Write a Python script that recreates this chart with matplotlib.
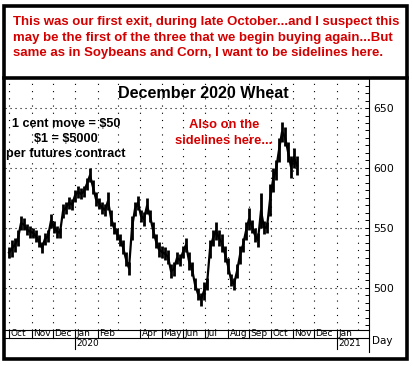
import numpy as np
import pandas as pd
import matplotlib.pyplot as plt
from matplotlib.lines import Line2D
from matplotlib.patches import Rectangle
from matplotlib.transforms import blended_transform_factory

W, H = 413, 366

# December 2020 wheat (cents/bu), one bar every 3rd trading day from 1 Oct 2019
lows = [525, 526, 530, 535, 548, 548, 544, 542, 542, 538, 534, 529, 536, 538,
        550, 546, 542, 542, 558, 562, 566, 565, 572, 575, 574, 576, 582, 588,
        578, 568, 566, 562, 560, 565, 552, 545, 540, 535, 528, 518, 511, 540,
        560, 565, 555, 552, 562, 555, 542, 533, 526, 525, 523, 520, 508, 510,
        520, 518, 525, 530, 515, 510, 498, 490, 485, 490, 498, 525, 535, 540,
        535, 530, 522, 512, 502, 498, 508, 520, 530, 540, 548, 546, 538, 534,
        550, 545, 546, 560, 580, 590, 605, 622, 618, 605, 592, 600, 594]
highs = [534, 540, 542, 548, 560, 558, 553, 552, 550, 548, 544, 538, 546, 548,
         562, 556, 552, 550, 570, 572, 576, 574, 582, 585, 583, 585, 592, 600,
         590, 580, 575, 572, 570, 580, 565, 555, 550, 545, 540, 530, 522, 560,
         572, 577, 565, 563, 575, 565, 555, 545, 538, 535, 534, 532, 520, 522,
         530, 528, 535, 542, 530, 522, 508, 500, 496, 505, 508, 540, 548, 555,
         548, 545, 535, 525, 512, 508, 520, 535, 542, 555, 567, 557, 550, 546,
         579, 556, 555, 587, 600, 607, 625, 638, 634, 622, 610, 617, 610]

month_names = ['Oct', 'Nov', 'Dec', 'Jan', 'Feb', 'Mar', 'Apr', 'May', 'Jun',
               'Jul', 'Aug', 'Sep', 'Oct', 'Nov', 'Dec', 'Jan', 'Feb']
month_shown = [1, 1, 1, 1, 1, 0, 1, 1, 1, 1, 1, 1, 1, 1, 1, 1, 0]
years = ['2020', '2021']
price_ticks = [500, 550, 600, 650]

top_note = ["This was our first exit, during late October...and I suspect this",
            "may be the first of the three that we begin buying again...But",
            "same as in Soybeans and Corn, I want to be sidelines here."]
side_note = ["Also on the", "sidelines here..."]
contract_note = ["1 cent move = \\$50", "\\$1 = \\$5000", "per futures contract"]
title = "December 2020 Wheat"

red = '#d40000'
days = pd.bdate_range('2019-10-01', '2021-03-31')
month_starts = pd.date_range('2019-10-01', periods=len(month_names), freq='MS')
month_idx = days.searchsorted(month_starts)
bar_idx = np.arange(len(lows)) * 3
lows = np.array(lows)
highs = np.array(highs)


def fx(px):
    return px / W


def fy(py):
    return 1 - py / H


fig = plt.figure(figsize=(W / 100, H / 100), dpi=100)
ax = fig.add_axes([fx(5), fy(329.5), fx(369) - fx(5), fy(78) - fy(329.5)])
ax.set_xlim(-4, 360)
ax.set_ylim(650 - 221.5 / 1.2, 650 + 30 / 1.2)

for p in price_ticks:
    ax.axhline(p, color='k', lw=0.8, ls=(0, (1, 3.5)), zorder=0)
for m in month_idx:
    ax.axvline(m, color='k', lw=0.8, ls=(0, (1, 5.5)), zorder=0)

ax.vlines(bar_idx, lows, highs, color='k', lw=2.0)
ax.plot(bar_idx, (lows + highs) / 2, color='k', lw=1.6)

for s in ['left', 'top']:
    ax.spines[s].set_visible(False)
ax.spines['right'].set_linewidth(0.8)
ax.spines['bottom'].set_linewidth(0.8)
ax.yaxis.tick_right()
ax.set_yticks(price_ticks)
ax.set_yticklabels([str(p) for p in price_ticks], fontsize=7.8, family='DejaVu Sans')
ax.yaxis.set_minor_locator(plt.MultipleLocator(50 / 8))
ax.tick_params(axis='y', which='both', direction='in', length=3, width=0.7, pad=3)
ax.set_xticks([])

# month / year label rows under the plot
bt = blended_transform_factory(ax.transData, fig.transFigure)
fig.add_artist(Line2D([fx(4), fx(369)], [fy(337.5), fy(337.5)], color='k', lw=0.8))
fig.add_artist(Line2D([fx(369), fx(369)], [fy(329.5), fy(352)], color='k', lw=0.8))
for m, name, show in zip(month_idx, month_names, month_shown):
    if not show:
        continue
    fig.add_artist(Line2D([m, m], [fy(329.5), fy(337.5)], transform=bt, color='k', lw=0.8))
    fig.text(m + 1.5, fy(334), name, transform=bt, fontsize=6.5, va='center',
             ha='left', family='DejaVu Sans')
jan_idx = [m for m, n in zip(month_idx, month_names) if n == 'Jan']
for m, yr in zip(jan_idx, years):
    fig.add_artist(Line2D([m, m], [fy(337.5), fy(349)], transform=bt, color='k', lw=0.8))
    fig.text(m + 1.5, fy(344), yr, transform=bt, fontsize=6.5, va='center',
             ha='left', family='DejaVu Sans')
fig.text(fx(372), fy(341), "Day", fontsize=7.5, va='center', ha='left', family='DejaVu Sans')

# texts
for i, line in enumerate(top_note):
    fig.text(fx(13), fy(22 + 15.5 * i), line, color=red, fontsize=9.5,
             fontweight='bold', family='Liberation Sans', va='center', ha='left')
fig.text(fx(203), fy(94), title, fontsize=11.6, fontweight='bold',
         family='Liberation Sans', va='center', ha='center')
for i, line in enumerate(contract_note):
    fig.text(fx(66), fy(124 + 15 * i), line, fontsize=9.1, fontweight='bold',
             family='Liberation Sans', va='center', ha='center')
for i, line in enumerate(side_note):
    fig.text(fx(224), fy(125 + 16 * i), line, color=red, fontsize=9.4,
             fontweight='bold', family='Liberation Sans', va='center', ha='center')

# frames
fig.add_artist(Rectangle((fx(4), fy(358.5)), fx(407) - fx(4), fy(5.5) - fy(358.5),
                         transform=fig.transFigure, fill=False, ec='k', lw=2.6))
fig.add_artist(Line2D([fx(4), fx(407)], [fy(77.5), fy(77.5)], color='k', lw=2.6))

fig.savefig('out.png', dpi=100)
